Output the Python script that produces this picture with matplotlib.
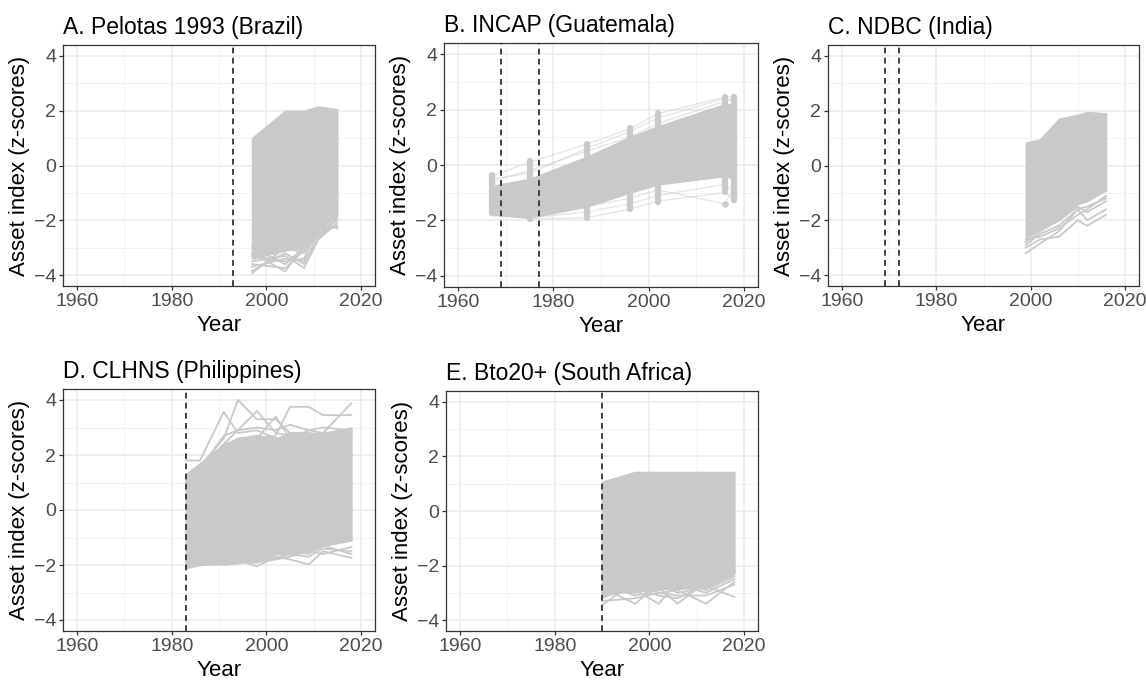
import numpy as np
import matplotlib.pyplot as plt

plt.rcParams['font.family'] = ['Liberation Sans', 'DejaVu Sans']

GRAY = "#C9C9C9"

# A. Pelotas 1993 (Brazil)
pel_years = [1997, 2004, 2008, 2011, 2015]
pel_upper = [1.0, 2.0, 2.0, 2.15, 2.05]
pel_lower = [-3.4, -3.1, -3.0, -2.4, -1.8]
pel_lines = [
    [-3.93, -3.0, -3.2, -2.4, -1.8],
    [-3.2, -3.87, -2.9, -2.5, -2.0],
    [-3.5, -3.3, -3.74, -2.7, -2.1],
    [-3.0, -3.6, -3.0, -2.0, -2.3],
    [-3.7, -3.4, -3.5, -2.71, -1.9],
    [-3.85, -3.2, -3.6, -2.5, -2.2],
    [-3.6, -3.75, -3.1, -2.6, -1.9],
    [-3.3, -3.5, -3.4, -2.3, -2.25],
]
pel_marks = [1993]

# B. INCAP (Guatemala)
inc_years = [1967, 1975, 1987, 1996, 2002, 2016, 2018]
inc_upper = [-0.75, -0.5, 0.3, 1.0, 1.4, 2.2, 2.2]
inc_lower = [-1.8, -1.9, -1.5, -1.0, -0.7, -0.4, -0.5]
inc_lines = [
    [-0.4, 0.1, 0.75, 1.3, 1.85, 2.45, 2.45],
    [-0.6, -0.2, 0.5, 1.0, 1.5, 2.3, 2.4],
    [-0.5, -0.3, 0.6, 1.2, 1.7, 2.4, 2.3],
    [-1.75, -1.95, -1.9, -1.6, -1.3, -1.0, -1.25],
    [-1.6, -1.8, -1.5, -1.2, -0.9, -1.4, -0.8],
    [-1.7, -1.9, -1.7, -1.4, -1.1, -0.7, -1.0],
]
inc_pt_min = [-1.74, -1.95, -1.9, -1.6, -1.32, -0.96, -1.26]
inc_pt_max = [-0.37, 0.13, 0.75, 1.32, 1.86, 2.46, 2.46]
inc_outlier_year = [2016]
inc_outlier_val = [-1.41]
inc_marks = [1969, 1977]

# C. NDBC (India)
ndb_years = [1999, 2002, 2006, 2010, 2012, 2016]
ndb_upper = [0.83, 0.95, 1.7, 1.85, 1.95, 1.9]
ndb_lower = [-2.65, -2.3, -2.0, -1.4, -1.3, -0.9]
ndb_lines = [
    [-3.2, -2.85, -2.4, -1.6, -1.5, -1.2],
    [-3.0, -2.7, -2.6, -2.0, -2.2, -1.8],
    [-2.9, -2.5, -2.2, -1.6, -2.0, -1.6],
    [-2.8, -2.4, -2.0, -1.5, -1.7, -1.3],
    [-2.7, -2.6, -2.3, -1.8, -1.6, -1.1],
]
ndb_marks = [1969, 1972]

# D. CLHNS (Philippines)
clh_years = [1983, 1986, 1991, 1994, 1998, 2002, 2005, 2009, 2012, 2018]
clh_upper = [1.3, 1.7, 2.4, 2.6, 2.7, 2.6, 2.8, 2.8, 2.8, 3.0]
clh_lower = [-2.1, -2.0, -1.95, -1.9, -1.9, -1.6, -1.6, -1.5, -1.3, -1.1]
clh_lines = [
    [1.8, 1.8, 3.57, 2.8, 2.9, 2.6, 2.7, 2.5, 2.6, 2.9],
    [1.2, 1.6, 2.6, 4.0, 3.3, 3.3, 2.8, 2.8, 2.7, 2.8],
    [1.0, 1.5, 2.4, 2.9, 3.6, 2.8, 2.7, 2.6, 2.5, 2.7],
    [0.9, 1.4, 2.2, 2.5, 2.6, 2.7, 3.75, 3.75, 3.45, 3.45],
    [1.1, 1.3, 2.3, 2.6, 2.7, 2.6, 2.6, 2.9, 2.8, 3.88],
    [1.0, 1.4, 2.2, 2.4, 2.6, 3.4, 2.6, 2.7, 2.6, 2.8],
    [1.2, 1.5, 2.7, 2.9, 3.0, 2.9, 3.1, 2.9, 3.0, 2.9],
    [-2.1, -2.0, -1.95, -1.8, -2.05, -1.7, -1.8, -1.98, -1.5, -1.74],
    [-2.0, -1.9, -2.0, -1.95, -1.8, -1.75, -1.6, -1.7, -1.4, -1.5],
    [-1.9, -1.8, -1.8, -1.7, -1.7, -1.6, -1.5, -1.6, -1.3, -1.6],
    [-2.05, -1.95, -1.9, -1.85, -1.9, -1.8, -1.7, -1.5, -1.6, -1.35],
]
clh_marks = [1983]

# E. Bto20+ (South Africa)
bto_years = [1990, 1997, 2002, 2006, 2012, 2018]
bto_upper = [1.07, 1.43, 1.43, 1.43, 1.43, 1.43]
bto_lower = [-3.1, -2.9, -2.85, -2.85, -2.8, -2.3]
bto_lines = [
    [-3.45, -2.6, -2.9, -2.7, -3.0, -2.5],
    [-2.8, -3.4, -2.7, -3.0, -2.8, -2.3],
    [-3.1, -2.9, -3.4, -2.6, -2.9, -2.4],
    [-2.9, -3.0, -2.8, -3.4, -2.6, -2.2],
    [-3.2, -2.7, -3.0, -2.9, -3.4, -2.6],
    [-2.7, -3.1, -2.9, -2.8, -2.75, -3.15],
    [-3.0, -2.8, -3.1, -3.2, -2.7, -2.0],
    [-3.3, -3.2, -3.0, -3.1, -3.1, -2.7],
]
bto_marks = [1990]

titles = ["A. Pelotas 1993 (Brazil)", "B. INCAP (Guatemala)", "C. NDBC (India)",
          "D. CLHNS (Philippines)", "E. Bto20+ (South Africa)"]

W, H = 1146, 683
# panel boxes in pixels: left, top, right, bottom
boxes = [(63, 45, 375, 286), (444, 43, 758, 287), (828, 45, 1139, 286),
         (63, 389, 375, 631), (446, 391, 758, 631)]

cohorts = [
    (pel_years, pel_upper, pel_lower, pel_lines, pel_marks),
    (inc_years, inc_upper, inc_lower, inc_lines, inc_marks),
    (ndb_years, ndb_upper, ndb_lower, ndb_lines, ndb_marks),
    (clh_years, clh_upper, clh_lower, clh_lines, clh_marks),
    (bto_years, bto_upper, bto_lower, bto_lines, bto_marks),
]

fig = plt.figure(figsize=(W / 100, H / 100), dpi=100)

for i, (years, upper, lower, lines, marks) in enumerate(cohorts):
    l, t, r, b = boxes[i]
    ax = fig.add_axes([l / W, 1 - b / H, (r - l) / W, (b - t) / H])
    ax.set_axisbelow(True)

    if i == 1:
        # INCAP: semi transparent lines plus points at each wave
        for traj in lines:
            ax.plot(years, traj, color=GRAY, lw=1.0, alpha=0.45, zorder=2)
        ax.fill_between(years, lower, upper, color=GRAY, lw=1.0, zorder=2)
        for yr, lo, hi in zip(years, inc_pt_min, inc_pt_max):
            ax.plot([yr, yr], [lo, hi], color=GRAY, lw=4.5,
                    solid_capstyle='round', zorder=3)
        ax.scatter(inc_outlier_year, inc_outlier_val, s=22, color=GRAY,
                   lw=0, zorder=3)
    else:
        ax.fill_between(years, lower, upper, color=GRAY, lw=1.2, zorder=2)
        for traj in lines:
            ax.plot(years, traj, color=GRAY, lw=1.3, zorder=2)

    for m in marks:
        ax.axvline(m, color="#333333", lw=1.3, dashes=(3.2, 2.4), zorder=4)

    ax.set_xlim(1957, 2023)
    ax.set_ylim(-4.4, 4.4)
    ax.set_xticks([1960, 1980, 2000, 2020])
    ax.set_xticks([1970, 1990, 2010], minor=True)
    ax.set_yticks([-4, -2, 0, 2, 4])
    ax.set_yticks([-3, -1, 1, 3], minor=True)
    ax.grid(which='major', color="#EBEBEB", lw=1.1)
    ax.grid(which='minor', color="#F2F2F2", lw=0.7)
    ax.tick_params(which='major', length=3, width=0.9, color="#333333",
                   labelsize=14, labelcolor="#4D4D4D", pad=2)
    ax.tick_params(which='minor', length=0)
    for s in ax.spines.values():
        s.set_color("#333333")
        s.set_linewidth(0.9)

    ax.set_xlabel("Year", fontsize=16, labelpad=4)
    ax.set_ylabel("Asset index (z-scores)", fontsize=16, labelpad=3)
    ax.set_title(titles[i], loc='left', fontsize=16.5, pad=8)

plt.savefig("out.png", dpi=100)
